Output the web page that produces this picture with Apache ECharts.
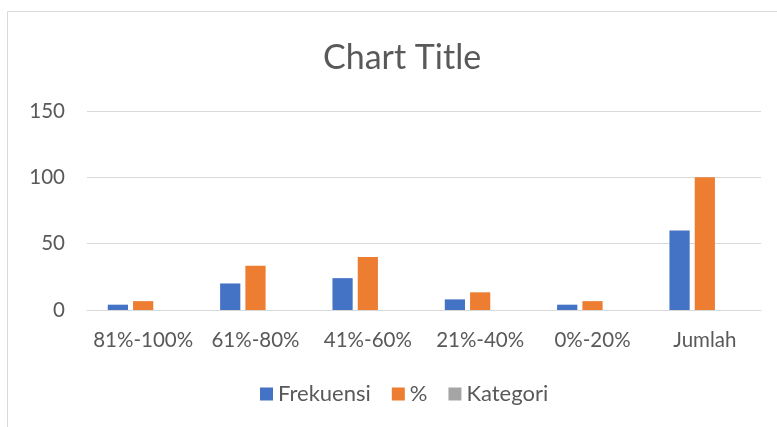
<!DOCTYPE html>
<html>
<head>
<meta charset="utf-8">
<script src="https://cdn.jsdelivr.net/npm/echarts@6/dist/echarts.min.js"></script>
<style>
  html, body { margin: 0; padding: 0; background: #fff; }
  #chart { width: 777px; height: 427px; }
</style>
</head>
<body>
<div id="chart"></div>
<script>
  // data
  var categories = ['81%-100%', '61%-80%', '41%-60%', '21%-40%', '0%-20%', 'Jumlah'];
  var frekuensi = [4, 20, 24, 8, 4, 60];
  var persen = [6.67, 33.33, 40, 13.33, 6.67, 100];
  var kategori = [null, null, null, null, null, null];
  var yTicks = [0, 50, 100, 150];

  var textColor = '#595959';
  var font = 'Lato, "Open Sans", sans-serif';

  var chart = echarts.init(document.getElementById('chart'));
  chart.setOption({
    animation: false,
    color: ['#4472C4', '#ED7D31', '#A5A5A5'],
    textStyle: { fontFamily: font },
    graphic: [{
      type: 'rect',
      shape: { x: 7.5, y: 11.5, width: 820, height: 500 },
      style: { fill: 'none', stroke: '#d9d9d9', lineWidth: 1 },
      silent: true
    }],
    title: {
      text: 'Chart Title',
      left: 318,
      top: 36,
      textStyle: { color: textColor, fontSize: 34, fontWeight: 'normal', fontFamily: font }
    },
    legend: {
      bottom: 17,
      left: 255,
      itemWidth: 13,
      itemHeight: 13,
      itemGap: 21,
      icon: 'rect',
      textStyle: { color: textColor, fontSize: 22, fontFamily: font },
      data: ['Frekuensi', '%', 'Kategori']
    },
    grid: { left: 87, right: 16, top: 111, bottom: 117, containLabel: false },
    xAxis: {
      type: 'category',
      data: categories,
      axisLine: { lineStyle: { color: '#d9d9d9', width: 1 } },
      axisTick: { show: false },
      axisLabel: { color: textColor, fontSize: 20.5, margin: 20, interval: 0, fontFamily: font }
    },
    yAxis: {
      type: 'value',
      min: yTicks[0],
      max: yTicks[yTicks.length - 1],
      interval: 50,
      axisLine: { show: false },
      axisTick: { show: false },
      splitLine: { lineStyle: { color: '#d9d9d9', width: 1 } },
      axisLabel: { color: textColor, fontSize: 20.5, margin: 22, fontFamily: font }
    },
    series: [
      { name: 'Frekuensi', type: 'bar', data: frekuensi, barGap: '25%', barCategoryGap: '37%' },
      { name: '%', type: 'bar', data: persen, barGap: '25%', barCategoryGap: '37%' },
      { name: 'Kategori', type: 'bar', data: kategori, barGap: '25%', barCategoryGap: '37%' }
    ]
  });
</script>
</body>
</html>
